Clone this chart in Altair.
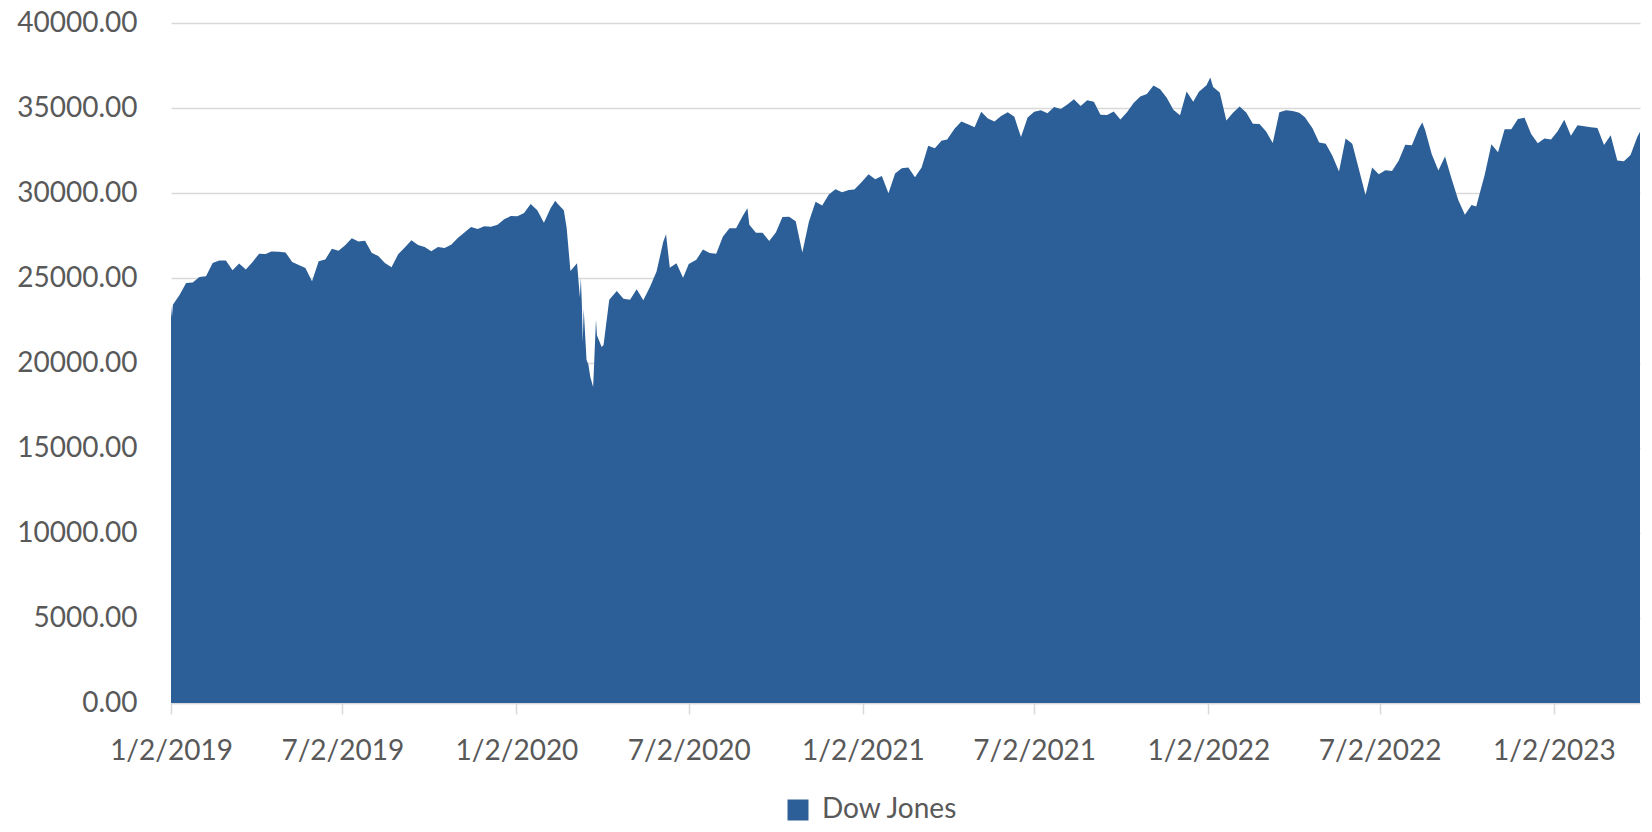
import altair as alt
import pandas as pd

dates = [
    "2019-01-02", "2019-01-03", "2019-01-04", "2019-01-11", "2019-01-18", "2019-01-25",
    "2019-02-01", "2019-02-08", "2019-02-15", "2019-02-22", "2019-03-01", "2019-03-08",
    "2019-03-15", "2019-03-22", "2019-03-29", "2019-04-05", "2019-04-12", "2019-04-18",
    "2019-04-26", "2019-05-03", "2019-05-10", "2019-05-17", "2019-05-24", "2019-05-31",
    "2019-06-07", "2019-06-14", "2019-06-21", "2019-06-28", "2019-07-05", "2019-07-12",
    "2019-07-19", "2019-07-26", "2019-08-02", "2019-08-09", "2019-08-16", "2019-08-23",
    "2019-08-30", "2019-09-06", "2019-09-13", "2019-09-20", "2019-09-27", "2019-10-04",
    "2019-10-11", "2019-10-18", "2019-10-25", "2019-11-01", "2019-11-08", "2019-11-15",
    "2019-11-22", "2019-11-29", "2019-12-06", "2019-12-13", "2019-12-20", "2019-12-27",
    "2020-01-03", "2020-01-10", "2020-01-17", "2020-01-24", "2020-01-31", "2020-02-07",
    "2020-02-12", "2020-02-14", "2020-02-21", "2020-02-24", "2020-02-28", "2020-03-06",
    "2020-03-09", "2020-03-10", "2020-03-11", "2020-03-12", "2020-03-13", "2020-03-16",
    "2020-03-18", "2020-03-20", "2020-03-23", "2020-03-26", "2020-03-27", "2020-04-01",
    "2020-04-03", "2020-04-09", "2020-04-17", "2020-04-24", "2020-05-01", "2020-05-08",
    "2020-05-15", "2020-05-22", "2020-05-29", "2020-06-05", "2020-06-08", "2020-06-12",
    "2020-06-19", "2020-06-26", "2020-07-02", "2020-07-10", "2020-07-17", "2020-07-24",
    "2020-07-31", "2020-08-07", "2020-08-14", "2020-08-21", "2020-08-28", "2020-09-02",
    "2020-09-04", "2020-09-11", "2020-09-18", "2020-09-25", "2020-10-02", "2020-10-09",
    "2020-10-16", "2020-10-23", "2020-10-30", "2020-11-06", "2020-11-13", "2020-11-20",
    "2020-11-27", "2020-12-04", "2020-12-11", "2020-12-18", "2020-12-24", "2020-12-31",
    "2021-01-08", "2021-01-15", "2021-01-22", "2021-01-29", "2021-02-05", "2021-02-12",
    "2021-02-19", "2021-02-26", "2021-03-05", "2021-03-12", "2021-03-19", "2021-03-26",
    "2021-04-01", "2021-04-09", "2021-04-16", "2021-04-23", "2021-04-30", "2021-05-07",
    "2021-05-14", "2021-05-21", "2021-05-28", "2021-06-04", "2021-06-11", "2021-06-18",
    "2021-06-25", "2021-07-02", "2021-07-09", "2021-07-16", "2021-07-23", "2021-07-30",
    "2021-08-06", "2021-08-13", "2021-08-20", "2021-08-27", "2021-09-03", "2021-09-10",
    "2021-09-17", "2021-09-24", "2021-10-01", "2021-10-08", "2021-10-15", "2021-10-22",
    "2021-10-29", "2021-11-05", "2021-11-12", "2021-11-19", "2021-11-26", "2021-12-03",
    "2021-12-10", "2021-12-17", "2021-12-23", "2021-12-31", "2022-01-04", "2022-01-07",
    "2022-01-14", "2022-01-21", "2022-01-28", "2022-02-04", "2022-02-11", "2022-02-18",
    "2022-02-25", "2022-03-04", "2022-03-11", "2022-03-18", "2022-03-25", "2022-04-01",
    "2022-04-08", "2022-04-14", "2022-04-22", "2022-04-29", "2022-05-06", "2022-05-13",
    "2022-05-20", "2022-05-27", "2022-06-03", "2022-06-10", "2022-06-17", "2022-06-24",
    "2022-07-01", "2022-07-08", "2022-07-15", "2022-07-22", "2022-07-29", "2022-08-05",
    "2022-08-12", "2022-08-16", "2022-08-19", "2022-08-26", "2022-09-02", "2022-09-09",
    "2022-09-16", "2022-09-23", "2022-09-30", "2022-10-07", "2022-10-12", "2022-10-14",
    "2022-10-21", "2022-10-28", "2022-11-04", "2022-11-11", "2022-11-18", "2022-11-25",
    "2022-12-02", "2022-12-09", "2022-12-16", "2022-12-23", "2022-12-30", "2023-01-06",
    "2023-01-13", "2023-01-20", "2023-01-27", "2023-02-03", "2023-02-10", "2023-02-17",
    "2023-02-24", "2023-03-03", "2023-03-10", "2023-03-17", "2023-03-24", "2023-03-31",
    "2023-04-03",
]

values = [
    23346, 22686, 23433, 23996, 24706, 24737,
    25064, 25106, 25883, 26031, 26026, 25450,
    25849, 25502, 25929, 26425, 26412, 26559,
    26543, 26505, 25942, 25764, 25586, 24815,
    25984, 26090, 26719, 26600, 26922, 27332,
    27154, 27192, 26485, 26287, 25886, 25629,
    26403, 26797, 27220, 26935, 26820, 26573,
    26817, 26770, 26958, 27347, 27681, 28005,
    27876, 28051, 28015, 28135, 28455, 28645,
    28634, 28824, 29348, 28990, 28256, 29102,
    29551, 29398, 28992, 27961, 25409, 25864,
    23851, 25018, 23553, 21200, 23185, 20188,
    19898, 19174, 18592, 22552, 21637, 20943,
    21053, 23719, 24242, 23775, 23724, 24331,
    23685, 24465, 25383, 27111, 27572, 25606,
    25871, 25016, 25827, 26075, 26672, 26470,
    26428, 27433, 27931, 27930, 28654, 29100,
    28133, 27666, 27657, 27174, 27683, 28587,
    28606, 28336, 26502, 28323, 29479, 29263,
    29910, 30218, 30046, 30179, 30200, 30606,
    31098, 30814, 30997, 29983, 31148, 31458,
    31494, 30932, 31496, 32779, 32628, 33073,
    33153, 33801, 34200, 34043, 33875, 34778,
    34382, 34208, 34529, 34756, 34480, 33290,
    34434, 34786, 34870, 34688, 35062, 34935,
    35209, 35515, 35120, 35456, 35369, 34608,
    34584, 34798, 34326, 34746, 35295, 35677,
    35820, 36328, 36100, 35602, 34899, 34580,
    35971, 35365, 35950, 36338, 36800, 36231,
    35912, 34265, 34725, 35089, 34738, 34079,
    34059, 33615, 32945, 34755, 34862, 34818,
    34721, 34451, 33811, 32977, 32899, 32197,
    31262, 33213, 32900, 31393, 29889, 31501,
    31097, 31338, 31289, 31899, 32845, 32803,
    33761, 34152, 33707, 32283, 31318, 32151,
    30822, 29590, 28726, 29297, 29210, 29635,
    31083, 32862, 32403, 33748, 33746, 34347,
    34430, 33477, 32920, 33204, 33147, 33631,
    34303, 33375, 33978, 33926, 33869, 33827,
    32817, 33391, 31910, 31862, 32238, 33274,
    33601,
]

series_name = "Dow Jones"
tick_dates = [(2019, 1), (2019, 7), (2020, 1), (2020, 7), (2021, 1), (2021, 7),
              (2022, 1), (2022, 7), (2023, 1)]
y_ticks = [0, 5000, 10000, 15000, 20000, 25000, 30000, 35000, 40000]

df = pd.DataFrame({"date": dates, "value": values, "series": series_name})

FONT = "Lato"
TEXT = "#595959"
GRID = "#d9d9d9"
BLUE = "#2c5f97"

x_values = [alt.DateTime(year=y, month=m, date=2, utc=True) for y, m in tick_dates]

chart = (
    alt.Chart(df)
    .mark_area(color=BLUE, interpolate="linear")
    .encode(
        x=alt.X(
            "date:T",
            scale=alt.Scale(
                type="utc",
                domain=[
                    alt.DateTime(year=2019, month=1, date=2, utc=True),
                    alt.DateTime(year=2023, month=4, date=3, utc=True),
                ],
            ),
            axis=alt.Axis(
                title=None,
                values=x_values,
                format="%-m/%-d/%Y",
                grid=False,
                domain=True,
                domainColor=GRID,
                domainWidth=1.5,
                ticks=True,
                tickColor=GRID,
                tickWidth=1.5,
                tickSize=11,
                labelFont=FONT,
                labelFontSize=28,
                labelColor=TEXT,
                labelPadding=23,
                labelOverlap=False,
                labelFlush=False,
            ),
        ),
        y=alt.Y(
            "value:Q",
            scale=alt.Scale(domain=[0, 40000], nice=False),
            axis=alt.Axis(
                title=None,
                values=y_ticks,
                format=".2f",
                grid=True,
                gridColor=GRID,
                gridWidth=1.5,
                domain=False,
                ticks=False,
                labelFont=FONT,
                labelFontSize=28,
                labelColor=TEXT,
                labelPadding=34,
            ),
        ),
        color=alt.Color(
            "series:N",
            scale=alt.Scale(domain=[series_name], range=[BLUE]),
            legend=alt.Legend(
                title=None,
                orient="none",
                legendX=613,
                legendY=773,
                padding=0,
                symbolType="square",
                symbolSize=441,
                symbolStrokeWidth=0,
                labelFont=FONT,
                labelFontSize=28,
                labelColor=TEXT,
                labelOffset=10,
            ),
        ),
    )
    .properties(
        width=1469,
        height=680,
        background="white",
        autosize=alt.AutoSizeParams(type="none"),
        padding={"left": 163, "top": 15, "right": 4, "bottom": 121},
    )
    .configure_view(stroke=None, strokeWidth=0)
)

chart.save("out.html", embed_options={"renderer": "svg", "actions": False})
